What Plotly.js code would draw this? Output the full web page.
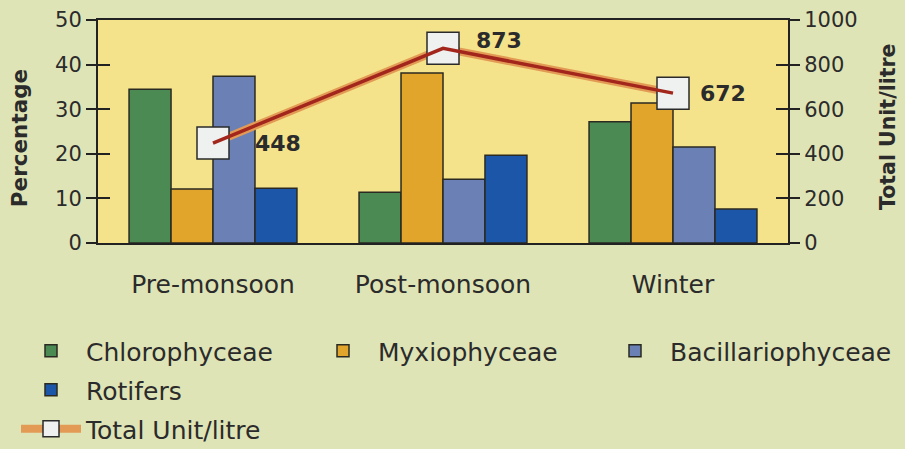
<!DOCTYPE html>
<html>
<head>
<meta charset="utf-8">
<script src="https://cdn.plot.ly/plotly-3.0.1.min.js"></script>
<style>html,body{margin:0;padding:0;background:#dfe4b6;}#chart{width:905px;height:449px;}</style>
</head>
<body>
<div id="chart"></div>
<script>
// ---- data ----
const seasons = ["Pre-monsoon", "Post-monsoon", "Winter"];
const chlorophyceae = [34.5, 11.4, 27.2];
const myxiophyceae = [12.1, 38.1, 31.4];
const bacillariophyceae = [37.4, 14.3, 21.5];
const rotifers = [12.3, 19.7, 7.6];
const totalUnit = [448, 873, 672];
const leftTicks = [0, 10, 20, 30, 40, 50];
const rightTicks = [0, 200, 400, 600, 800, 1000];
const leftTitle = "Percentage";
const rightTitle = "Total Unit/litre";

// ---- styles ----
const FONT = "DejaVu Sans, Verdana, sans-serif";
const INK = "#2b2b2b";
const labelShiftX = [40, 31, 25];
const labelShiftY = [0, 8, 0];

function barTrace(name, vals, color, legendId) {
  return {
    type: "bar", name: name, x: seasons, y: vals, yaxis: "y",
    marker: {color: color, line: {color: "#2a2a22", width: 1.5}},
    legend: legendId, legendgroup: name, hoverinfo: "x+y+name"
  };
}

const traces = [
  barTrace("Chlorophyceae", chlorophyceae, "#4b8a52", "legend"),
  barTrace("Myxiophyceae", myxiophyceae, "#e0a52a", "legend2"),
  barTrace("Bacillariophyceae", bacillariophyceae, "#6b81b6", "legend3"),
  barTrace("Rotifers", rotifers, "#1c56a8", "legend"),
  {
    type: "scatter", mode: "lines+markers", name: "Total Unit/litre",
    x: seasons, y: totalUnit, yaxis: "y2", legend: "legend", legendgroup: "total",
    line: {color: "#e29a55", width: 8},
    marker: {symbol: "square", size: 32, color: "#eef1f0", line: {color: "#2a2a2a", width: 1.5}}
  },
  {
    type: "scatter", mode: "lines", name: "Total Unit/litre",
    x: seasons, y: totalUnit, yaxis: "y2", showlegend: false, legendgroup: "total",
    line: {color: "#a3261c", width: 3.5}, hoverinfo: "skip"
  }
];

const annotations = totalUnit.map((v, i) => ({
  x: seasons[i], y: v, xref: "x", yref: "y2",
  text: "<b>" + v + "</b>", showarrow: false,
  xanchor: "left", yanchor: "middle",
  xshift: labelShiftX[i], yshift: labelShiftY[i],
  font: {family: FONT, size: 22, color: INK}
}));
// axis titles
annotations.push({
  text: "<b>" + leftTitle + "</b>", xref: "paper", yref: "paper", x: (19 - 98) / 690, y: 0.47,
  xanchor: "center", yanchor: "middle", textangle: -90, showarrow: false,
  font: {family: FONT, size: 21.5, color: INK}
});
annotations.push({
  text: "<b>" + rightTitle + "</b>", xref: "paper", yref: "paper", x: (888 - 98) / 690, y: 0.52,
  xanchor: "center", yanchor: "middle", textangle: -90, showarrow: false,
  font: {family: FONT, size: 20.5, color: INK}
});

function legendAt(px, topPx) {
  return {
    orientation: "v", xref: "container", yref: "container",
    x: px / 905, y: 1 - topPx / 449, xanchor: "left", yanchor: "top",
    bgcolor: "rgba(0,0,0,0)", font: {size: 25, color: INK},
    itemwidth: 60, traceorder: "grouped", tracegroupgap: 3.5
  };
}

const layout = {
  width: 905, height: 449,
  paper_bgcolor: "#dfe4b6",
  plot_bgcolor: "#f4e38a",
  margin: {l: 98, r: 117, t: 20, b: 206, autoexpand: false},
  barmode: "group", bargap: 0.27, bargroupgap: 0,
  font: {family: FONT, color: INK},
  showlegend: true,
  xaxis: {
    type: "category", showgrid: false, zeroline: false,
    showline: true, linecolor: "#222", linewidth: 2, mirror: true,
    ticks: "", tickfont: {size: 25, color: INK}, ticklabelstandoff: 18
  },
  yaxis: {
    range: [0, 50], tickvals: leftTicks, ticks: "outside", ticklen: 10, tickwidth: 2, tickcolor: "#222",
    showgrid: false, zeroline: false, showline: true, linecolor: "#222", linewidth: 2,
    tickfont: {size: 21, color: INK}
  },
  yaxis3: {
    range: [0, 50], tickvals: leftTicks, ticks: "inside", ticklen: 12, tickwidth: 2, tickcolor: "#222",
    overlaying: "y", showticklabels: false, showgrid: false, zeroline: false, showline: false
  },
  yaxis2: {
    range: [0, 1000], tickvals: rightTicks, overlaying: "y", side: "right",
    ticks: "outside", ticklen: 10, tickwidth: 2, tickcolor: "#222",
    showgrid: false, zeroline: false, showline: true, linecolor: "#222", linewidth: 2,
    tickfont: {size: 21, color: INK}
  },
  yaxis4: {
    range: [0, 1000], tickvals: rightTicks, overlaying: "y", side: "right",
    ticks: "inside", ticklen: 12, tickwidth: 2, tickcolor: "#222",
    showticklabels: false, showgrid: false, zeroline: false, showline: false
  },
  legend: legendAt(16, 328),
  legend2: legendAt(308, 328),
  legend3: legendAt(600, 328),
  annotations: annotations
};

// dummy traces to activate the crossing-tick overlay axes
traces.push({type: "scatter", x: [seasons[0]], y: [null], yaxis: "y3", showlegend: false, hoverinfo: "skip"});
traces.push({type: "scatter", x: [seasons[0]], y: [null], yaxis: "y4", showlegend: false, hoverinfo: "skip"});

Plotly.newPlot("chart", traces, layout, {displayModeBar: false, staticPlot: true});
</script>
</body>
</html>
